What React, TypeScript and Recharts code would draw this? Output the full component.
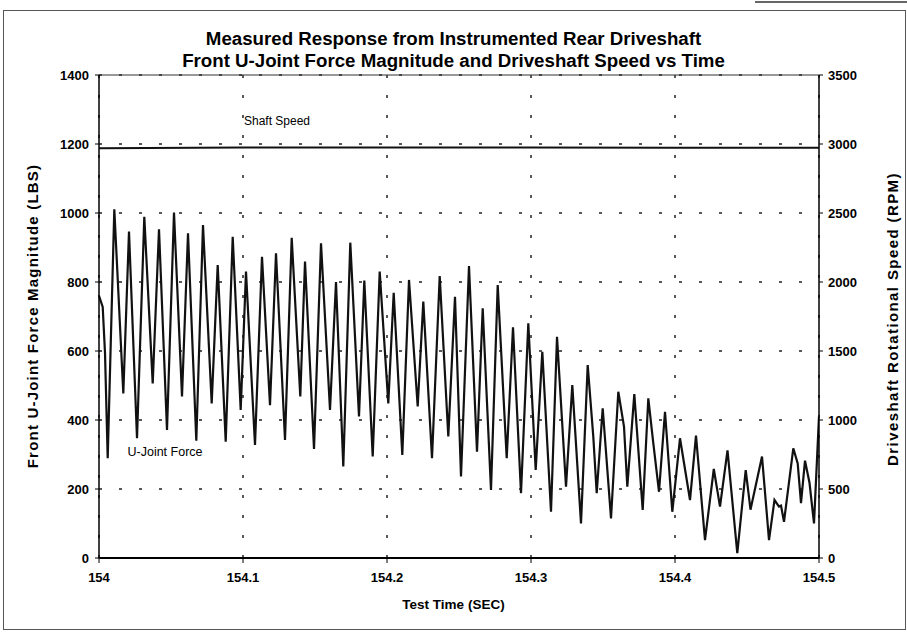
import React from 'react';
import { LineChart, Line, XAxis, YAxis, CartesianGrid, ReferenceLine } from 'recharts';

const timeSec = [
  154.0, 154.00257, 154.00417, 154.00604, 154.01063, 154.01688, 154.02083, 154.02639, 154.03146, 154.03729,
  154.04167, 154.04722, 154.05208, 154.05764, 154.06181, 154.06757, 154.07222, 154.07826, 154.08243, 154.08799,
  154.09285, 154.0984, 154.10208, 154.10833, 154.11319, 154.11875, 154.12292, 154.12917, 154.13382, 154.13979,
  154.14306, 154.14931, 154.15417, 154.16042, 154.16458, 154.16965, 154.17451, 154.18056, 154.18424, 154.19007,
  154.19493, 154.2009, 154.20465, 154.21063, 154.21528, 154.22132, 154.22521, 154.23125, 154.2366, 154.24257,
  154.24722, 154.25139, 154.25694, 154.2625, 154.26646, 154.27222, 154.27688, 154.28313, 154.2875, 154.29306,
  154.29813, 154.30326, 154.30785, 154.31389, 154.31806, 154.32431, 154.32868, 154.33472, 154.33938, 154.34326,
  154.34563, 154.34979, 154.35556, 154.36063, 154.36458, 154.36688, 154.37174, 154.37757, 154.38146, 154.38493,
  154.38889, 154.39306, 154.39813, 154.40347, 154.41042, 154.41458, 154.42083, 154.42694, 154.43125, 154.43646,
  154.44326, 154.4491, 154.45243, 154.46042, 154.46528, 154.4691, 154.47222, 154.47361, 154.47569, 154.48215,
  154.48521, 154.4875, 154.49028, 154.4934, 154.49653, 154.5,
];

const forceLbs = [
  760, 728, 594, 289, 1011, 477, 946, 347, 989, 506,
  953, 371, 1001, 468, 941, 340, 965, 448, 849, 337,
  931, 429, 830, 328, 873, 443, 883, 342, 928, 468,
  859, 316, 912, 429, 800, 265, 914, 410, 804, 294,
  830, 448, 769, 299, 806, 439, 743, 289, 817, 352,
  757, 236, 846, 308, 724, 197, 791, 289, 669, 188,
  680, 255, 598, 134, 641, 207, 501, 100, 559, 352,
  188, 434, 115, 482, 381, 207, 475, 139, 463, 333,
  192, 424, 134, 347, 168, 355, 52, 258, 149, 312,
  14, 255, 140, 294, 52, 168, 149, 152, 105, 318,
  274, 159, 282, 218, 100, 410,
];

const speedTime = [154.0, 154.1, 154.2, 154.3, 154.4, 154.5];
const speedRpm = [2970, 2975, 2975, 2974, 2972, 2972];

const timeTicks = [154.0, 154.1, 154.2, 154.3, 154.4, 154.5];
const forceTicks = [0, 200, 400, 600, 800, 1000, 1200, 1400];
const rpmTicks = [0, 500, 1000, 1500, 2000, 2500, 3000, 3500];

const forceData = timeSec.map((t, i) => ({ t, force: forceLbs[i] }));
const speedData = speedTime.map((t, i) => ({ t, rpm: speedRpm[i] }));

const FONT = '"Liberation Sans", Arial, Helvetica, sans-serif';
const tickStyle = { fontSize: 13, fontWeight: 700, fill: '#000', fontFamily: FONT };

export default function App() {
  return (
    <div style={{ position: 'absolute', left: 0, top: 0, width: 907, height: 633, background: '#fff', fontFamily: FONT }}>
      <div style={{ position: 'absolute', left: 3, top: 10, width: 901, height: 618, border: '1px solid #555' }} />
      <div style={{ position: 'absolute', left: 755, top: 1, width: 152, height: 2, background: '#666' }} />
      <LineChart
        width={907}
        height={633}
        margin={{ top: 75, right: 28, bottom: 45, left: 39 }}
        style={{ position: 'absolute', left: 0, top: 0 }}
      >
        <CartesianGrid yAxisId="left" stroke="#222" strokeWidth={1.5} strokeDasharray="3 17" />
        <XAxis
          dataKey="t"
          type="number"
          domain={[154, 154.5]}
          ticks={timeTicks}
          allowDataOverflow
          height={30}
          tickFormatter={(v: number) => String(Number(v.toFixed(1)))}
          tick={tickStyle}
          tickMargin={10}
          tickSize={5}
          axisLine={{ stroke: '#000', strokeWidth: 2 }}
          tickLine={{ stroke: '#000' }}
        />
        <YAxis
          yAxisId="left"
          domain={[0, 1400]}
          ticks={forceTicks}
          width={60}
          tick={tickStyle}
          tickSize={4}
          tickMargin={6}
          axisLine={{ stroke: '#000', strokeWidth: 1.5 }}
          tickLine={{ stroke: '#000' }}
        />
        <YAxis
          yAxisId="right"
          orientation="right"
          domain={[0, 3500]}
          ticks={rpmTicks}
          width={60}
          tick={tickStyle}
          tickSize={4}
          tickMargin={5}
          axisLine={{ stroke: '#000', strokeWidth: 1.5 }}
          tickLine={{ stroke: '#000' }}
        />
        <ReferenceLine yAxisId="left" y={1400} stroke="#333" strokeWidth={1} />
        <Line
          yAxisId="right"
          data={speedData}
          dataKey="rpm"
          type="linear"
          stroke="#111"
          strokeWidth={2}
          dot={false}
          isAnimationActive={false}
        />
        <Line
          yAxisId="left"
          data={forceData}
          dataKey="force"
          type="linear"
          stroke="#111"
          strokeWidth={2.2}
          dot={false}
          isAnimationActive={false}
        />
      </LineChart>
      <div style={{ position: 'absolute', left: 0, width: 907, top: 28, textAlign: 'center', fontSize: 18.7, fontWeight: 700, lineHeight: '22px', color: '#000' }}>
        Measured Response from Instrumented Rear Driveshaft
        <br />
        Front U-Joint Force Magnitude and Driveshaft Speed vs Time
      </div>
      <div style={{ position: 'absolute', left: 277 - 60, width: 120, top: 114, textAlign: 'center', fontSize: 12, color: '#000' }}>
        Shaft Speed
      </div>
      <div style={{ position: 'absolute', left: 165 - 60, width: 120, top: 445, textAlign: 'center', fontSize: 12.5, color: '#000' }}>
        U-Joint Force
      </div>
      <div style={{ position: 'absolute', left: 0, width: 907, top: 597, textAlign: 'center', fontSize: 13.5, fontWeight: 700, color: '#000' }}>
        Test Time (SEC)
      </div>
      <div style={{ position: 'absolute', left: 33 - 200, top: 316 - 10, width: 400, height: 20, lineHeight: '20px', textAlign: 'center', fontSize: 15, letterSpacing: 1.2, fontWeight: 700, transform: 'rotate(-90deg)', color: '#000' }}>
        Front U-Joint Force Magnitude (LBS)
      </div>
      <div style={{ position: 'absolute', left: 893 - 200, top: 319 - 10, width: 400, height: 20, lineHeight: '20px', textAlign: 'center', fontSize: 15, letterSpacing: 1.4, fontWeight: 700, transform: 'rotate(-90deg)', color: '#000' }}>
        Driveshaft Rotational Speed (RPM)
      </div>
    </div>
  );
}
